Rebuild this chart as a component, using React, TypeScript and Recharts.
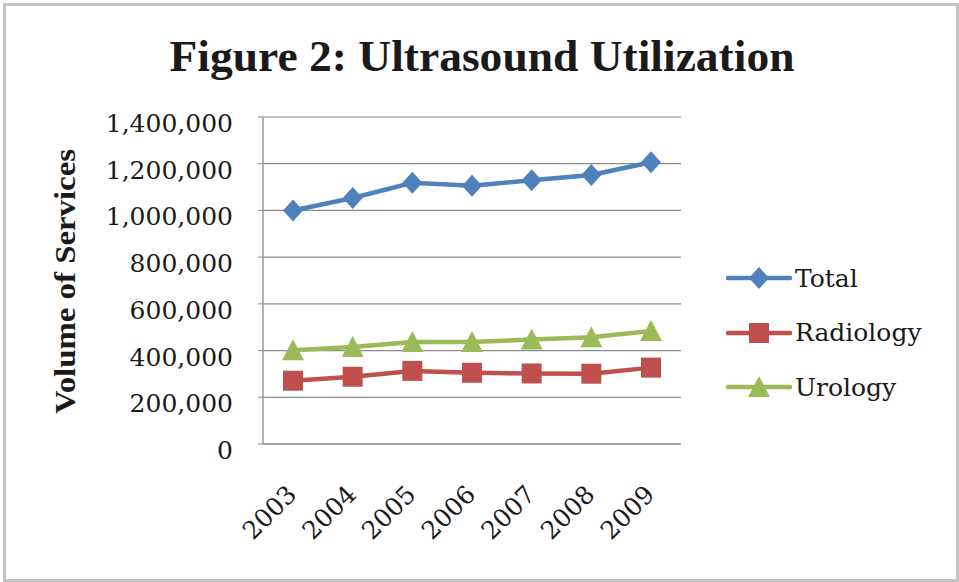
import React from 'react';
import { LineChart, Line, XAxis, YAxis, CartesianGrid, Legend } from 'recharts';

const years = ['2003', '2004', '2005', '2006', '2007', '2008', '2009'];
const total = [1000000, 1053000, 1118000, 1106000, 1129000, 1152000, 1206000];
const radiology = [271000, 288000, 313000, 305000, 302000, 301000, 327000];
const urology = [401000, 415000, 437000, 437000, 447000, 457000, 484000];
const yTicks = [0, 200000, 400000, 600000, 800000, 1000000, 1200000, 1400000];

const SERIES = [
  { key: 'total', name: 'Total', color: '#4f81bd', shape: 'diamond' },
  { key: 'radiology', name: 'Radiology', color: '#c0504d', shape: 'square' },
  { key: 'urology', name: 'Urology', color: '#9bbb59', shape: 'triangle' },
];

const data = years.map((year, i) => ({
  year,
  total: total[i],
  radiology: radiology[i],
  urology: urology[i],
}));

const FONT = '"DejaVu Serif", serif';
const BOLD_FONT = '"Liberation Serif", serif';
const TEXT = '#1a1a1a';

function Marker({ shape, cx, cy, color }: { shape: string; cx: number; cy: number; color: string }) {
  if (shape === 'diamond') {
    return <polygon points={`${cx},${cy - 11} ${cx + 10},${cy} ${cx},${cy + 11} ${cx - 10},${cy}`} fill={color} />;
  }
  if (shape === 'square') {
    return <rect x={cx - 10} y={cy - 10} width={20} height={20} fill={color} />;
  }
  return <polygon points={`${cx},${cy - 11} ${cx + 11},${cy + 10} ${cx - 11},${cy + 10}`} fill={color} />;
}

const renderLegend = () => (
  <div style={{ fontFamily: FONT, fontSize: 25, color: TEXT }}>
    {SERIES.map((s) => (
      <div key={s.key} style={{ display: 'flex', alignItems: 'center', height: 54.5 }}>
        <svg width={66} height={30}>
          <line x1={2} x2={64} y1={15} y2={15} stroke={s.color} strokeWidth={4.5} strokeLinecap="round" />
          <Marker shape={s.shape} cx={33} cy={15} color={s.color} />
        </svg>
        <span style={{ marginLeft: 3 }}>{s.name}</span>
      </div>
    ))}
  </div>
);

const YTick = (props: any) => (
  <text x={props.x} y={props.y} dy={15} textAnchor="end" fontFamily={FONT} fontSize={25} fill={TEXT}>
    {Number(props.payload.value).toLocaleString('en-US')}
  </text>
);

const XTick = (props: any) => {
  const x = props.x + 5;
  const y = props.y + 52;
  return (
    <text x={x} y={y} textAnchor="end" transform={`rotate(-45, ${x}, ${y})`} fontFamily={FONT} fontSize={25} fill={TEXT}>
      {props.payload.value}
    </text>
  );
};

const YLabel = (props: any) => {
  const vb = props.viewBox;
  const x = vb.x + 75;
  const y = vb.y + vb.height / 2 + 1;
  return (
    <text
      x={x}
      y={y}
      textAnchor="middle"
      transform={`rotate(-90, ${x}, ${y})`}
      fontFamily={BOLD_FONT}
      fontWeight="bold"
      fontSize={30}
      fill={TEXT}
      textLength={265}
      lengthAdjust="spacingAndGlyphs"
    >
      Volume of Services
    </text>
  );
};

export default function App() {
  return (
    <div style={{ position: 'absolute', left: 0, top: 0, width: 959, height: 582, background: '#fff' }}>
      <div
        style={{
          position: 'absolute',
          left: 3,
          top: 3,
          width: 956,
          height: 579,
          boxSizing: 'border-box',
          border: '3px solid #c4c4c4',
        }}
      />
      <svg style={{ position: 'absolute', left: 0, top: 0 }} width={959} height={100}>
        <text
          x={482}
          y={71}
          textAnchor="middle"
          fontFamily={BOLD_FONT}
          fontWeight="bold"
          fontSize={44}
          fill={TEXT}
          textLength={625}
          lengthAdjust="spacingAndGlyphs"
        >
          Figure 2: Ultrasound Utilization
        </text>
      </svg>
      <div style={{ position: 'absolute', left: 0, top: 0 }}>
        <LineChart width={959} height={582} data={data} margin={{ top: 117, right: 278, bottom: 38, left: 0 }}>
          <CartesianGrid horizontal vertical={false} stroke="#8c8c8c" strokeWidth={1.2} />
          <XAxis
            dataKey="year"
            height={100}
            padding={{ left: 30, right: 30 }}
            axisLine={{ stroke: '#9a9a9a', strokeWidth: 1.5 }}
            tickLine={false}
            tickSize={0}
            tickMargin={0}
            interval={0}
            tick={XTick}
          />
          <YAxis
            width={263}
            domain={[0, 1400000]}
            ticks={yTicks}
            interval={0}
            axisLine={{ stroke: '#9a9a9a', strokeWidth: 1.5 }}
            tickLine={{ stroke: '#9a9a9a', strokeWidth: 1.2 }}
            tickSize={5}
            tickMargin={25}
            tick={YTick}
            label={YLabel}
          />
          <Legend
            layout="vertical"
            align="center"
            verticalAlign="middle"
            content={renderLegend}
            wrapperStyle={{ left: 726, top: 251, width: 230 }}
          />
          {SERIES.map((s) => (
            <Line
              key={s.key}
              dataKey={s.key}
              name={s.name}
              stroke={s.color}
              strokeWidth={4.5}
              isAnimationActive={false}
              dot={(p: any) => <Marker key={`${s.key}-${p.index}`} shape={s.shape} cx={p.cx} cy={p.cy} color={s.color} />}
              activeDot={false}
            />
          ))}
        </LineChart>
      </div>
    </div>
  );
}
